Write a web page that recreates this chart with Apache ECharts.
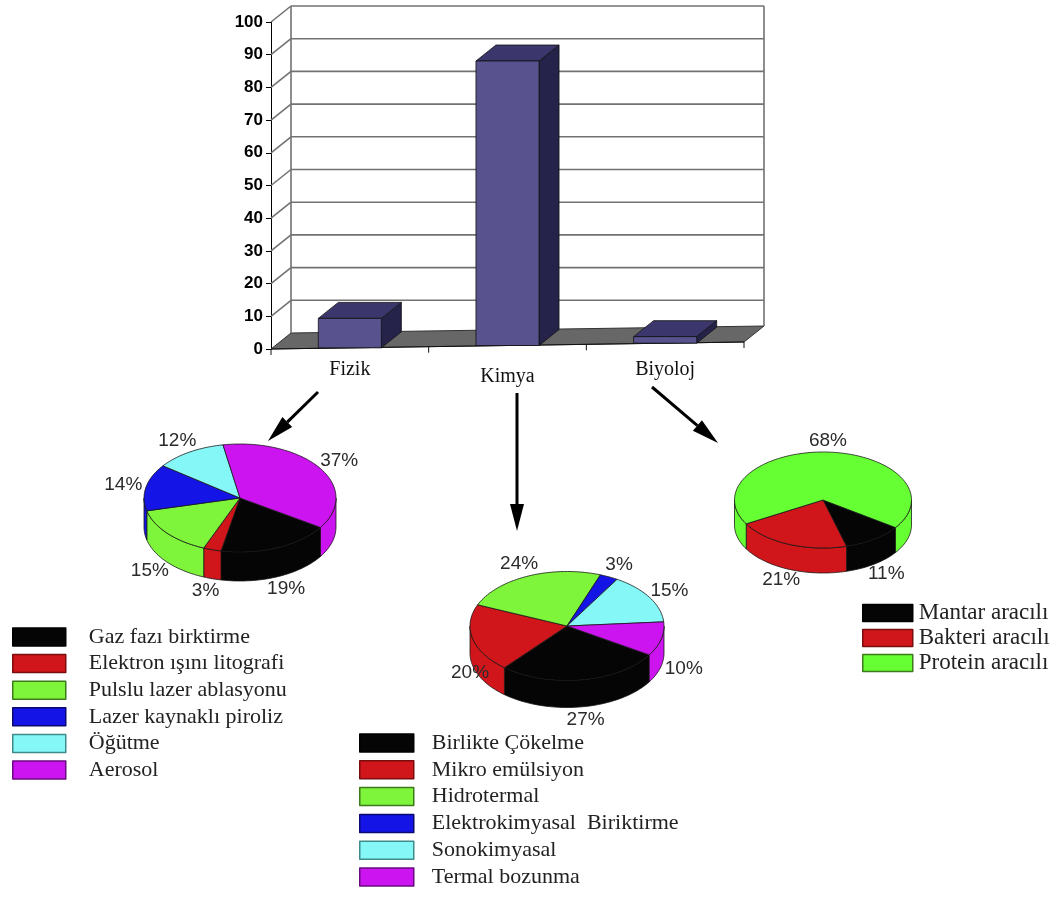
<!DOCTYPE html>
<html>
<head>
<meta charset="utf-8">
<script src="https://cdn.jsdelivr.net/npm/echarts@6/dist/echarts.min.js"></script>
<style>
  html, body { margin: 0; padding: 0; background: #ffffff; }
  #chart { width: 1057px; height: 902px; }
</style>
</head>
<body>
<div id="chart"></div>
<script>
// ---- data -------------------------------------------------------------
// Share of nanoparticle synthesis work by approach (%)
const approaches = ['Fizik', 'Kimya', 'Biyoloj'];
const approachShare = [9, 87, 2];
const yTicks = [0, 10, 20, 30, 40, 50, 60, 70, 80, 90, 100];

// Physical methods (%)
const fizikMethods = ['Gaz fazı birktirme', 'Elektron ışını litografi', 'Pulslu lazer ablasyonu',
                      'Lazer kaynaklı piroliz', 'Öğütme', 'Aerosol'];
const fizikShare = [19, 3, 15, 14, 12, 37];

// Chemical methods (%)
const kimyaMethods = ['Birlikte Çökelme', 'Mikro emülsiyon', 'Hidrotermal',
                      'Elektrokimyasal  Biriktirme', 'Sonokimyasal', 'Termal bozunma'];
const kimyaShare = [27, 20, 24, 3, 15, 10];

// Biological methods (%)
const biyolojMethods = ['Mantar aracılı', 'Bakteri aracılı', 'Protein aracılı'];
const biyolojShare = [11, 21, 68];

// ---- styles & layout --------------------------------------------------
const SIX_FILL   = ['#050505', '#d0161a', '#7ef53a', '#1414e6', '#86f7f7', '#cc14f0'];
const SIX_BORDER = ['#000000', '#7a0d0d', '#3d7a1c', '#0a0a70', '#3f8a8a', '#6a0a80'];
const BIO_FILL   = ['#050505', '#d0161a', '#66ff33'];
const BIO_BORDER = ['#000000', '#7a0d0d', '#3d7a1c'];

const DEPTH = { dx: 20, dy: -16 };        // oblique depth of the 3D box
const FLOOR_RISE = 7;                      // floor front edge rises toward the right
const BAR = { ratio: 0.4, front: '#58538f', top: '#3b366b', side: '#26234a', edge: '#111' };
const WALL = { color: '#727272', width: 1.6 };

const SANS = 'Arial, "Liberation Sans", sans-serif';
const SERIF = '"Times New Roman", "Liberation Serif", serif';
const D = Math.PI / 180;

const PIE_GEO = {
  fizik:   { cx: 240, cy: 498, rx: 96,   ry: 54,   h: 29, start: 33, k: 1.24, nudge: {} },
  kimya:   { cx: 567, cy: 626, rx: 97,   ry: 54.5, h: 27, start: 32, k: 1.24, nudge: { 1: [20, 4] } },
  biyoloj: { cx: 823, cy: 500, rx: 88.5, ry: 48,   h: 25, start: 35, k: 1.24, nudge: {} }
};

// ---- helpers ----------------------------------------------------------
function floorLift(x, cs) {
  return FLOOR_RISE * (x - cs.x) / cs.width;
}

// back wall, side wall gridlines and floor of the 3D column plot
function renderFrame(params, api) {
  const cs = params.coordSys;
  const L = cs.x, R = cs.x + cs.width, B = cs.y + cs.height;
  const v = api.value(1);
  const y = api.coord([0, v])[1];
  const { dx, dy } = DEPTH;
  const children = [];
  if (v === 0) {
    const topY = api.coord([0, yTicks[yTicks.length - 1]])[1] + dy;
    const rR = B - FLOOR_RISE;
    children.push({
      type: 'polygon',
      shape: { points: [[L, B], [R, rR], [R + dx, rR + dy], [L + dx, B + dy]] },
      style: { fill: '#676767', stroke: '#333', lineWidth: 1 }
    });
    children.push({ type: 'line', shape: { x1: L + dx, y1: topY, x2: L + dx, y2: B + dy },
      style: { stroke: WALL.color, lineWidth: WALL.width } });
    children.push({ type: 'line', shape: { x1: R + dx, y1: topY, x2: R + dx, y2: rR + dy },
      style: { stroke: WALL.color, lineWidth: WALL.width } });
    // front edge of the floor acts as the category axis
    children.push({ type: 'line', shape: { x1: L, y1: B, x2: R, y2: rR },
      style: { stroke: '#111', lineWidth: 1.2 } });
    const band = api.size([1, 0])[0];
    for (let k = 0; k <= approaches.length; k++) {
      const x = L + k * band;
      const fy = B - floorLift(x, cs);
      children.push({ type: 'line', shape: { x1: x, y1: fy, x2: x, y2: fy + 6 },
        style: { stroke: '#111', lineWidth: 1 } });
    }
  } else {
    children.push({ type: 'line', shape: { x1: L + dx, y1: y + dy, x2: R + dx, y2: y + dy },
      style: { stroke: WALL.color, lineWidth: WALL.width } });
    children.push({ type: 'line', shape: { x1: L, y1: y, x2: L + dx, y2: y + dy },
      style: { stroke: WALL.color, lineWidth: WALL.width } });
  }
  return { type: 'group', children };
}

// one 3D column: front face, top and right side
function renderColumn(params, api) {
  const cs = params.coordSys;
  const idx = api.value(0);
  const top = api.coord([idx, api.value(1)]);
  const base = api.coord([idx, 0]);
  const w = api.size([1, 0])[0] * BAR.ratio;
  const lift = floorLift(top[0], cs);
  const x0 = top[0] - w / 2, x1 = top[0] + w / 2;
  const yt = top[1] - lift, yb = base[1] - lift;
  const { dx, dy } = DEPTH;
  const edge = { stroke: BAR.edge, lineWidth: 0.8 };
  return {
    type: 'group',
    children: [
      { type: 'polygon', shape: { points: [[x1, yt], [x1 + dx, yt + dy], [x1 + dx, yb + dy], [x1, yb]] },
        style: Object.assign({ fill: BAR.side }, edge) },
      { type: 'polygon', shape: { points: [[x0, yt], [x1, yt], [x1 + dx, yt + dy], [x0 + dx, yt + dy]] },
        style: Object.assign({ fill: BAR.top }, edge) },
      { type: 'rect', shape: { x: x0, y: yt, width: w, height: yb - yt },
        style: Object.assign({ fill: BAR.front }, edge) }
    ]
  };
}

// one slice of an oblique 3D pie
function pie3D(values, fills, geo) {
  const total = values.reduce((a, b) => a + b, 0);
  const pt = (a, off) => [geo.cx + geo.rx * Math.cos(a * D), geo.cy + geo.ry * Math.sin(a * D) + off];
  const arc = (lo, hi, off) => {
    const n = Math.max(2, Math.ceil((hi - lo) / 2));
    const pts = [];
    for (let i = 0; i <= n; i++) pts.push(pt(lo + (hi - lo) * i / n, off));
    return pts;
  };
  return function (params, api) {
    const i = params.dataIndex;
    let before = 0;
    for (let j = 0; j < i; j++) before += values[j];
    const v = api.value(0);
    const a0 = geo.start + before / total * 360;
    const a1 = a0 + v / total * 360;
    const edge = { stroke: 'rgba(20,20,20,0.85)', lineWidth: 0.9, lineJoin: 'round' };
    const children = [];
    // visible outer wall: the front half of the rim
    for (let k = -1; k <= 2; k++) {
      const lo = Math.max(a0, 360 * k), hi = Math.min(a1, 360 * k + 180);
      if (hi > lo) {
        const pts = arc(lo, hi, 0).concat(arc(lo, hi, geo.h).reverse());
        children.push({ type: 'polygon', shape: { points: pts },
          style: Object.assign({ fill: fills[i] }, edge) });
      }
    }
    children.push({ type: 'polygon', shape: { points: [[geo.cx, geo.cy]].concat(arc(a0, a1, 0)) },
      style: Object.assign({ fill: fills[i] }, edge) });
    const am = (a0 + a1) / 2;
    const s = Math.sin(am * D);
    const nudge = geo.nudge[i] || [0, 0];
    children.push({
      type: 'text',
      x: geo.cx + geo.rx * geo.k * Math.cos(am * D) + nudge[0],
      y: geo.cy + geo.ry * geo.k * s + (s > 0 ? geo.h : 0) + nudge[1],
      style: { text: v + '%', fontFamily: SANS, fontSize: 19, fill: '#2b2b2b',
               align: 'center', verticalAlign: 'middle' }
    });
    return { type: 'group', children };
  };
}

function arrow(from, to) {
  const ang = Math.atan2(to[1] - from[1], to[0] - from[0]);
  const len = 27, half = 7;
  const bx = to[0] - len * Math.cos(ang), by = to[1] - len * Math.sin(ang);
  const nx = -Math.sin(ang) * half, ny = Math.cos(ang) * half;
  return [
    { type: 'line', shape: { x1: from[0], y1: from[1], x2: bx, y2: by },
      style: { stroke: '#000', lineWidth: 3 } },
    { type: 'polygon', shape: { points: [to, [bx + nx, by + ny], [bx - nx, by - ny]] },
      style: { fill: '#000' } }
  ];
}

// zero-radius pie series only feed names and colours to the legends
function legendSource(names, values, fills, borders, geo) {
  return {
    type: 'pie', radius: 0, center: [geo.cx, geo.cy], silent: true, z: 0,
    label: { show: false }, labelLine: { show: false },
    data: names.map((n, i) => ({ name: n, value: values[i],
      itemStyle: { color: fills[i], borderColor: borders[i], borderWidth: 0 } }))
  };
}

function legendBlock(extra, textGap, fontSize) {
  return Object.assign({
    orient: 'vertical', padding: 0, selectedMode: false, icon: 'rect',
    itemStyle: { borderWidth: 1.5, borderColor: 'inherit' },
    textStyle: { fontFamily: SERIF, fontSize: fontSize, lineHeight: fontSize, color: '#222',
                 padding: [0, 0, 0, textGap] }
  }, extra);
}

const chart = echarts.init(document.getElementById('chart'), null, { renderer: 'canvas' });
chart.setOption({
  animation: false,
  backgroundColor: '#ffffff',
  grid: { left: 271, top: 22, width: 473, height: 327, containLabel: false },
  xAxis: {
    type: 'category', data: approaches, boundaryGap: true,
    axisLine: { show: false }, axisTick: { show: false }, splitLine: { show: false },
    axisLabel: {
      margin: 11, color: '#111', fontFamily: SERIF, fontSize: 20,
      formatter: (val, idx) => idx === 1 ? '{low|' + val + '}' : '{std|' + val + '}',
      rich: {
        std: { fontFamily: SERIF, fontSize: 20, color: '#111' },
        low: { fontFamily: SERIF, fontSize: 20, color: '#111', padding: [7, 0, 0, 0] }
      }
    }
  },
  yAxis: {
    type: 'value', min: 0, max: 100, interval: 10,
    axisLine: { show: true, lineStyle: { color: '#000', width: 1 } },
    axisTick: { show: true, length: 5, lineStyle: { color: '#000' } },
    splitLine: { show: false },
    axisLabel: { margin: 8, color: '#000', fontFamily: SANS, fontWeight: 'bold', fontSize: 17 }
  },
  legend: [
    legendBlock({ data: fizikMethods, left: 12, top: 626, itemWidth: 53, itemHeight: 18, itemGap: 4.6 }, 18, 22),
    legendBlock({ data: kimyaMethods, left: 359, top: 732, itemWidth: 54, itemHeight: 18, itemGap: 4.8 }, 13, 22),
    legendBlock({ data: biyolojMethods, left: 862, top: 601.5, itemWidth: 50, itemHeight: 17, itemGap: 2 }, 1, 23)
  ],
  graphic: {
    elements: [].concat(
      arrow([318, 392], [268, 441]),
      arrow([517, 393], [517, 531]),
      arrow([652, 387], [718, 443])
    )
  },
  series: [
    {
      type: 'custom', name: 'frame', coordinateSystem: 'cartesian2d', clip: false, silent: true, z: 1,
      encode: { x: 0, y: 1 },
      data: yTicks.map(v => [0, v]),
      renderItem: renderFrame
    },
    {
      type: 'custom', name: 'Pay', coordinateSystem: 'cartesian2d', clip: false, z: 3,
      encode: { x: 0, y: 1 },
      data: approaches.map((n, i) => [i, approachShare[i]]),
      renderItem: renderColumn
    },
    legendSource(fizikMethods, fizikShare, SIX_FILL, SIX_BORDER, PIE_GEO.fizik),
    legendSource(kimyaMethods, kimyaShare, SIX_FILL, SIX_BORDER, PIE_GEO.kimya),
    legendSource(biyolojMethods, biyolojShare, BIO_FILL, BIO_BORDER, PIE_GEO.biyoloj),
    { type: 'custom', name: 'Fizik yöntemleri', coordinateSystem: 'none', z: 4, silent: true,
      data: fizikShare, renderItem: pie3D(fizikShare, SIX_FILL, PIE_GEO.fizik) },
    { type: 'custom', name: 'Kimya yöntemleri', coordinateSystem: 'none', z: 4, silent: true,
      data: kimyaShare, renderItem: pie3D(kimyaShare, SIX_FILL, PIE_GEO.kimya) },
    { type: 'custom', name: 'Biyoloj yöntemleri', coordinateSystem: 'none', z: 4, silent: true,
      data: biyolojShare, renderItem: pie3D(biyolojShare, BIO_FILL, PIE_GEO.biyoloj) }
  ]
});
</script>
</body>
</html>
